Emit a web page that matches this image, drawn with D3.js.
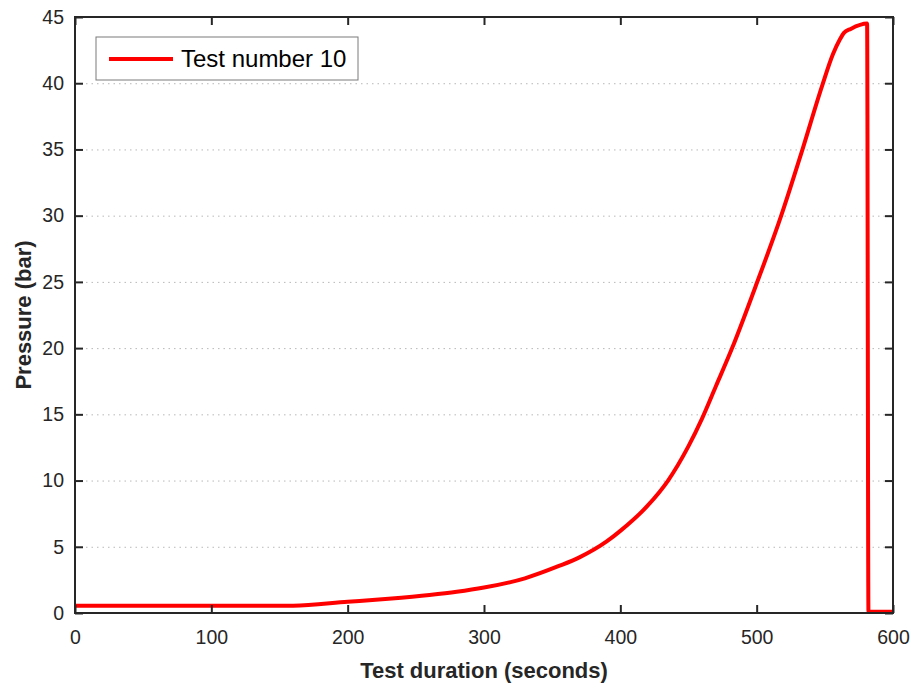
<!DOCTYPE html>
<html>
<head>
<meta charset="utf-8">
<script src="https://cdn.jsdelivr.net/npm/d3@7"></script>
<style>
  body { margin: 0; background: #fff; }
  text { font-family: "Liberation Sans", Arial, Helvetica, sans-serif; }
</style>
</head>
<body>
<div id="chart"></div>
<script>
// values
var timeSeconds = [0, 160, 200, 230, 260, 280, 300, 330, 355, 370, 390, 400, 420, 435, 450, 460, 470, 482, 499, 518, 533, 548, 556, 561, 564, 569, 581, 582, 600];
var pressureBar = [0.55, 0.55, 0.85, 1.08, 1.36, 1.6, 1.92, 2.62, 3.55, 4.2, 5.4, 6.2, 8.1, 10, 12.6, 14.7, 17.1, 20, 24.6, 30, 34.8, 39.8, 42.2, 43.3, 43.8, 44.1, 44.5, 0.1, 0.1];
var xTicks = [0, 100, 200, 300, 400, 500, 600];
var yTicks = [0, 5, 10, 15, 20, 25, 30, 35, 40, 45];
var seriesName = 'Test number 10';

var width = 914, height = 687;
var margin = {left: 75, top: 17, right: 21, bottom: 74};
var axisColor = '#262626';

var svg = d3.select('#chart').append('svg')
   .attr('width', width)
   .attr('height', height);

var x = d3.scaleLinear().domain([0, 600]).range([margin.left, width - margin.right]);
var y = d3.scaleLinear().domain([0, 45]).range([height - margin.bottom, margin.top]);

// horizontal dotted grid
svg.append('g').selectAll('line')
   .data(yTicks.slice(1, -1))
   .enter().append('line')
   .attr('x1', x(0)).attr('x2', x(600))
   .attr('y1', function (d) { return y(d) + 0.5 })
   .attr('y2', function (d) { return y(d) + 0.5 })
   .attr('stroke', '#b8b8b8')
   .attr('stroke-width', 1)
   .attr('stroke-dasharray', '1.5,4');

// pressure line
var line = d3.line()
   .curve(d3.curveMonotoneX)
   .x(function (d, i) { return x(timeSeconds[i]) })
   .y(function (d) { return y(d) });

svg.append('path')
   .datum(pressureBar)
   .attr('d', line)
   .attr('fill', 'none')
   .attr('stroke', '#ff0000')
   .attr('stroke-width', 4)
   .attr('stroke-linejoin', 'round');

// axes (ticks pointing inward, box on)
var tickLen = 8;
function styleAxis(g, withText) {
   g.select('.domain').remove();
   g.selectAll('line').attr('stroke', axisColor).attr('stroke-width', 2);
   if (withText) g.selectAll('text').attr('fill', axisColor).attr('font-size', '19.5px');
}
svg.append('g')
   .attr('transform', 'translate(0,' + y(0) + ')')
   .call(d3.axisBottom(x).tickValues(xTicks).tickSize(-tickLen).tickPadding(17))
   .call(function (g) { styleAxis(g, true) });
svg.append('g')
   .attr('transform', 'translate(0,' + y(45) + ')')
   .call(d3.axisTop(x).tickValues(xTicks).tickSize(-tickLen).tickFormat(''))
   .call(function (g) { styleAxis(g, false) });
svg.append('g')
   .attr('transform', 'translate(' + x(0) + ',0)')
   .call(d3.axisLeft(y).tickValues(yTicks).tickSize(-tickLen).tickPadding(11))
   .call(function (g) { styleAxis(g, true) });
svg.append('g')
   .attr('transform', 'translate(' + x(600) + ',0)')
   .call(d3.axisRight(y).tickValues(yTicks).tickSize(-tickLen).tickFormat(''))
   .call(function (g) { styleAxis(g, false) });

// box
svg.append('rect')
   .attr('x', x(0)).attr('y', y(45))
   .attr('width', x(600) - x(0))
   .attr('height', y(0) - y(45))
   .attr('fill', 'none')
   .attr('stroke', axisColor)
   .attr('stroke-width', 2);

// axis titles
svg.append('text')
   .attr('x', (x(0) + x(600)) / 2)
   .attr('y', 678)
   .attr('text-anchor', 'middle')
   .attr('font-size', '22px')
   .attr('font-weight', 'bold')
   .attr('fill', axisColor)
   .text('Test duration (seconds)');

svg.append('text')
   .attr('transform', 'translate(31,' + (y(0) + y(45)) / 2 + ') rotate(-90)')
   .attr('text-anchor', 'middle')
   .attr('font-size', '22px')
   .attr('font-weight', 'bold')
   .attr('fill', axisColor)
   .text('Pressure (bar)');

// legend
var legend = svg.append('g').attr('transform', 'translate(96,37)');
legend.append('rect')
   .attr('width', 262).attr('height', 43)
   .attr('fill', '#fff')
   .attr('stroke', '#7a7a7a')
   .attr('stroke-width', 1);
legend.append('line')
   .attr('x1', 13).attr('x2', 77)
   .attr('y1', 22).attr('y2', 22)
   .attr('stroke', '#ff0000')
   .attr('stroke-width', 4);
legend.append('text')
   .attr('x', 85).attr('y', 30)
   .attr('font-size', '24px')
   .attr('fill', '#000')
   .text(seriesName);
</script>
</body>
</html>
